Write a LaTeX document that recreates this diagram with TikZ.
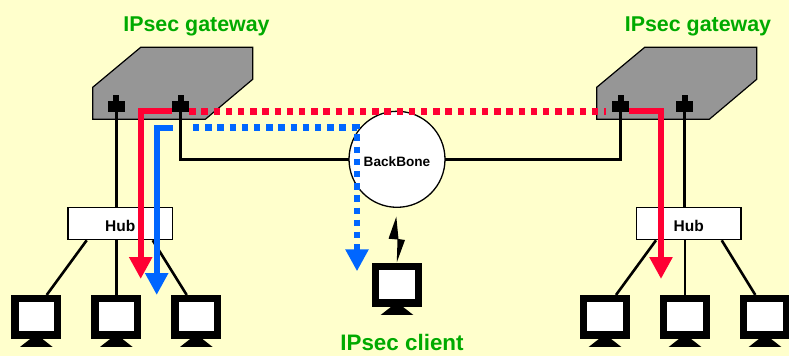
\documentclass[tikz,border=0pt]{standalone}
\usepackage{fontspec}
\setmainfont{Liberation Sans}
\usetikzlibrary{arrows.meta}
\definecolor{paper}{HTML}{FFFFCC}
\definecolor{boxgray}{HTML}{969696}
\definecolor{tunnelred}{HTML}{FF0033}
\definecolor{tunnelblue}{HTML}{0066FF}
\definecolor{titlegreen}{HTML}{00AA00}
\tikzset{
  gatewaybox/.style={draw=black,fill=boxgray,line width=1.2pt},
  portbox/.style={fill=black,inner sep=0pt,minimum width=17pt,minimum height=10.7pt},
  hubbox/.style={draw=black,fill=white,line width=1.2pt,inner sep=0pt,minimum width=104.3pt,minimum height=32.4pt,text height=15pt,text depth=0pt,font=\fontsize{15.5}{16}\selectfont\bfseries},
  pcbox/.style={draw=black,fill=white,line width=7.3pt,inner sep=0pt,minimum width=42.7pt,minimum height=36.4pt},
  wire/.style={draw=black,line width=2.6pt},
  title/.style={text=titlegreen,font=\fontsize{21.4}{22}\selectfont\bfseries},
  tunnel/.style={line width=6pt,-{Triangle[width=22pt,length=22pt]}},
  dots/.style={line width=6.4pt,dash pattern=on 6.4pt off 5.8pt}
}
\begin{document}
\begin{tikzpicture}[x=1pt,y=-1pt]
  \useasboundingbox (0,0) rectangle (789,356);
  \fill[paper] (0,0) rectangle (789,356);
  % gateways
  \draw[gatewaybox] (92.7,87.3) -- (140.7,47.3) -- (252.7,47.3) -- (252.7,79.3) -- (205.3,119.3) -- (92.7,119.3) -- cycle;
  \draw[gatewaybox] (596.7,87.3) -- (644.7,47.3) -- (756.7,47.3) -- (756.7,79.3) -- (709.3,119.3) -- (596.7,119.3) -- cycle;
  \node[title] (titleL) at (196.5,26) {IPsec gateway};
  \node[title] (titleR) at (698,26) {IPsec gateway};
  \node[title,font=\fontsize{22.4}{23}\selectfont\bfseries] (titleC) at (402,342) {IPsec client};
  % hubs, backbone, ports
  \node[hubbox] (hubL) at (120.2,223.5) {Hub};
  \node[hubbox] (hubR) at (688.8,223.5) {Hub};
  \foreach \name/\x in {portLa/116.3,portLb/180.5,portRa/620.5,portRb/684.5} {
    \node[portbox] (\name) at (\x,106.3) {};
  }
  % computers
  \foreach \name/\x/\y in {pcLa/36.3/316.8,pcLb/116.3/316.8,pcLc/196.3/316.8,pcRa/605/316.8,pcRb/685/316.8,pcRc/765/316.8,pcC/397/284.8} {
    \node[pcbox] (\name) at (\x,\y) {};
    \fill[black] ([xshift=-5.7pt]\name.south) -- ([xshift=5.7pt]\name.south) -- ([xshift=16.3pt,yshift=-8.3pt]\name.south) -- ([xshift=-16.3pt,yshift=-8.3pt]\name.south) -- cycle;
  }
  % wires
  \begin{scope}[every path/.style={wire}]
    \path (portLa.south) -- (portLa.south |- hubL.north);
    \path (portRb.south) -- (portRb.south |- hubR.north);
    \path (portLb.south) |- (349,159.3) coordinate (backL);
    \path (portRa.south) |- (445,159.3) coordinate (backR);
    \path ([xshift=-33.5pt]hubL.south) -- ([xshift=10.4pt]pcLa.north);
    \path (pcLb.north |- hubL.south) -- (pcLb.north);
    \path ([xshift=32.5pt]hubL.south) -- ([xshift=-9.6pt]pcLc.north);
    \path ([xshift=-32.8pt]hubR.south) -- ([xshift=11pt]pcRa.north);
    \path (pcRb.north |- hubR.south) -- (pcRb.north);
    \path ([xshift=32.9pt]hubR.south) -- ([xshift=-9.7pt]pcRc.north);
  \end{scope}
  \node[circle,draw=black,fill=white,line width=1.3pt,inner sep=0pt,minimum size=96pt,text height=15pt,text depth=0pt,font=\fontsize{13.6}{14}\selectfont\bfseries] (backbone) at (397,159.3) {BackBone};
  % port stems
  \foreach \name in {portLa,portLb,portRa,portRb} {
    \fill[black] ([xshift=-3pt]\name.north) rectangle ([xshift=3pt,yshift=6pt]\name.north);
  }
  % wireless link
  \fill[black] (396.3,216.7) -- (388.5,238.7) -- (397.5,239.5) -- (396.8,262.3) -- (405,240) -- (398.5,239) -- cycle;
  % tunnels
  \coordinate (redEndL) at (140.7,279);
  \coordinate (redEndR) at (661,279);
  \coordinate (blueEndL) at (156.7,295);
  \coordinate (blueEndC) at (357,271.3);
  \coordinate (blueTurn) at (357,127.5);
  \draw[dots,tunnelred] (portLb.east |- 0,111.3) -- (606,111.3);
  \draw[dots,tunnelblue,-{Triangle[width=22pt,length=22pt]}] (193,127.5) -- (blueTurn) -- (blueEndC);
  \draw[tunnel,tunnelred] (portLb.west |- 0,111.3) -| (redEndL);
  \draw[tunnel,tunnelred] (portRa.east |- 0,111.3) -| (redEndR);
  \draw[tunnel,tunnelblue] (172.7,127.5) -| (blueEndL);
\end{tikzpicture}
\end{document}
